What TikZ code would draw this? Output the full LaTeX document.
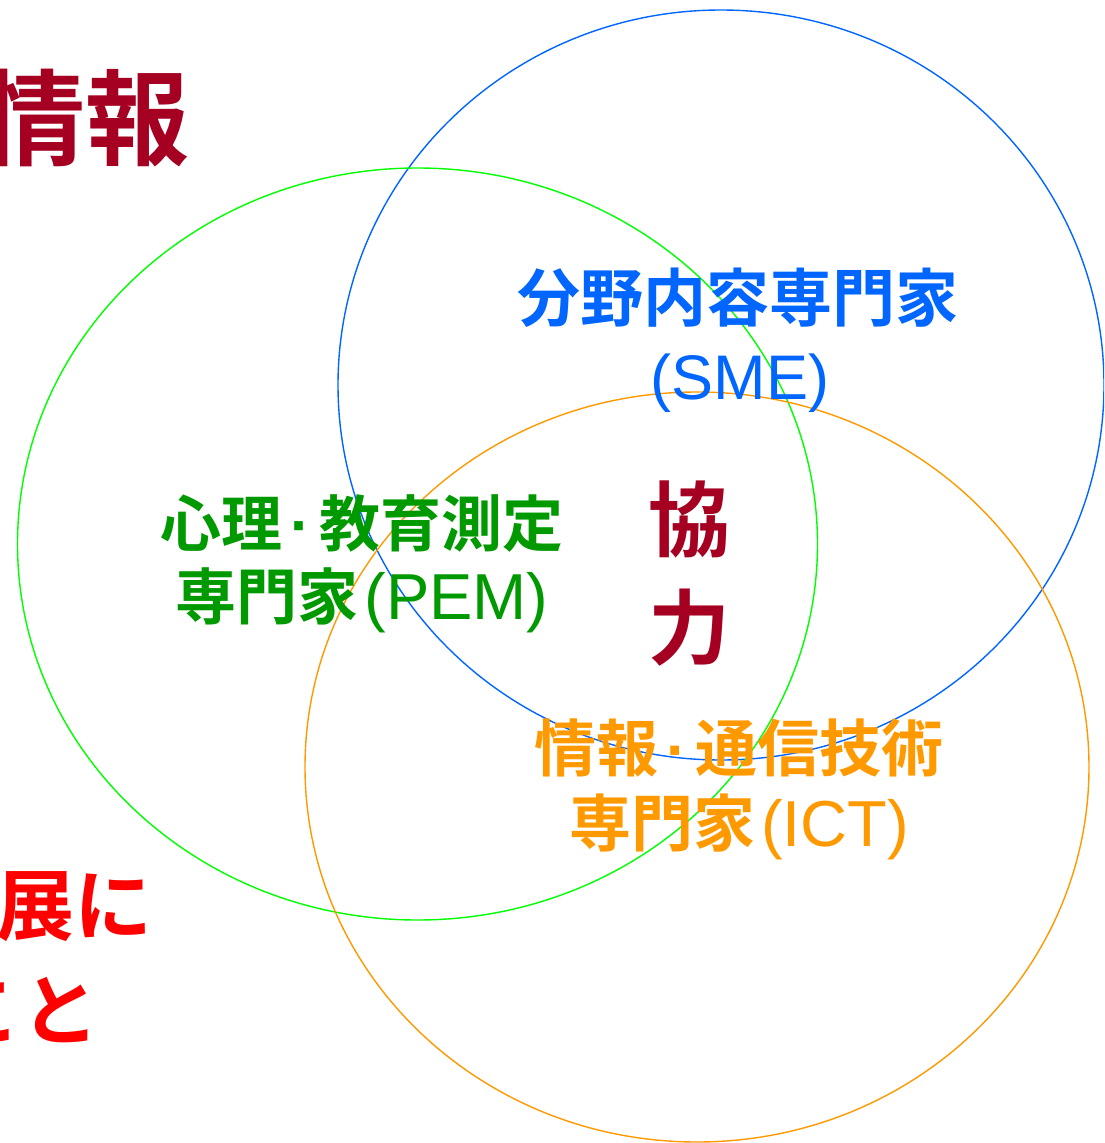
\documentclass[tikz,border=0pt]{standalone}
\usepackage{fontspec}
\newfontfamily\cjk{Noto Sans CJK JP}[BoldFont={Noto Sans CJK JP Bold}]
\newfontfamily\lat{Liberation Sans}
\definecolor{smeblue}{RGB}{0,102,255}
\definecolor{pemline}{RGB}{0,255,0}
\definecolor{pemtext}{RGB}{0,153,0}
\definecolor{ictorange}{RGB}{255,153,0}
\definecolor{darkred}{RGB}{165,0,33}
\definecolor{brightred}{RGB}{255,0,0}
\newcommand{\cj}[1]{{\cjk\bfseries #1}}
\newcommand{\mdot}{\hspace{8pt}{\lat\bfseries ·}\hspace{8pt}}
\newcommand{\latbig}[1]{{\lat\fontsize{65}{73}\selectfont #1}}
\tikzset{
  ring/.style={line width=1.4pt},
  lbl/.style={inner sep=0pt, align=center},
}
\begin{document}
\begin{tikzpicture}[x=1pt,y=-1pt]
\useasboundingbox (0,0) rectangle (1104,1143);
\clip (0,0) rectangle (1104,1143);
\fill[white] (0,0) rectangle (1104,1143);
% ellipses
\draw[ring, smeblue] (721,385) ellipse [x radius=383, y radius=375];
\draw[ring, pemline] (417.5,544) ellipse [x radius=400, y radius=376];
\draw[ring, ictorange] (697,767) ellipse [x radius=392, y radius=375];
% labels
\node[lbl, text=smeblue, font=\fontsize{63}{78}\selectfont] (sme) at (738,340)
  {\cj{分野内容専門家}\\{\lat\hspace{4pt}(SME)}};
\node[lbl, text=pemtext, font=\fontsize{61}{73}\selectfont] (pem) at (362,564)
  {\cj{心理}\mdot\cj{教育測定}\\\cj{専門家}\hspace{6pt}\latbig{(PEM)}};
\node[lbl, text=ictorange, font=\fontsize{62}{75}\selectfont] (ict) at (739,789)
  {\cj{情報}\mdot\cj{通信技術}\\\cj{専門家}\hspace{6pt}\latbig{(ICT)}};
\node[lbl, text=darkred, font=\cjk\bfseries\fontsize{82}{108}\selectfont] (kyo) at (689,574)
  {協\\力};
\node[lbl, text=darkred, font=\cjk\bfseries\fontsize{104}{120}\selectfont, anchor=east] (joho) at (190,118)
  {情報};
\node[lbl, text=brightred, font=\cjk\bfseries\fontsize{78}{90}\selectfont, anchor=east] (ten) at (153,907)
  {展に};
\node[lbl, text=brightred, font=\cjk\bfseries\fontsize{78}{90}\selectfont, anchor=east] (koto) at (100,1010)
  {こと};
\end{tikzpicture}
\end{document}
